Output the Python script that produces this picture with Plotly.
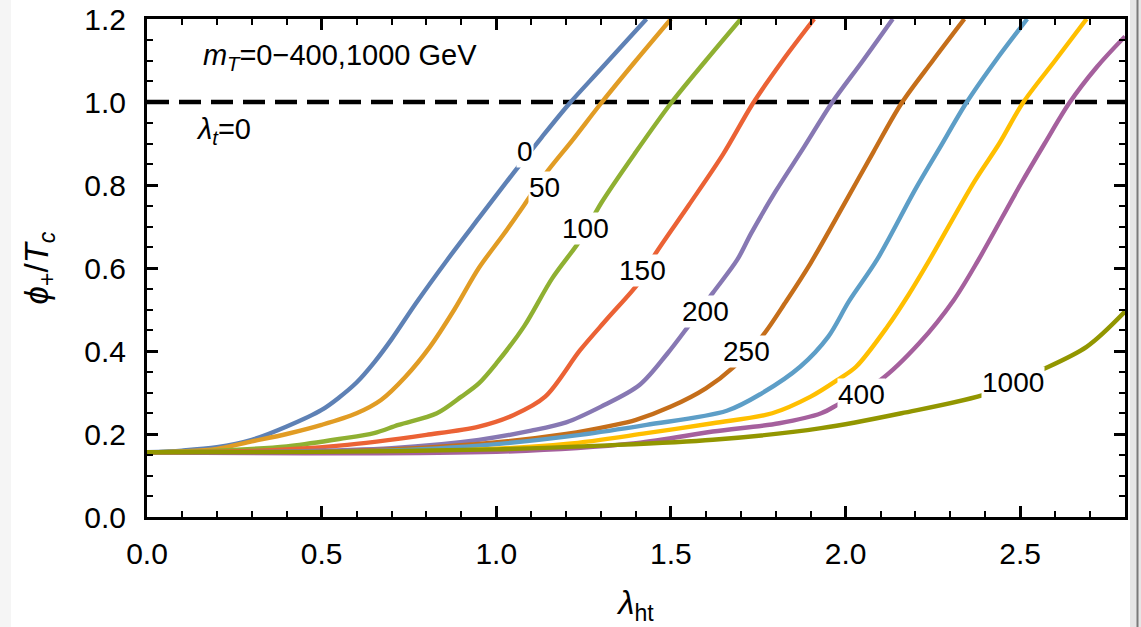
import plotly.graph_objects as go

# ---- data ----
mt_labels = ["0", "50", "100", "150", "200", "250", "300", "350", "400", "1000"]
colors = ["#5E81B5", "#E19C24", "#8FB032", "#EB6235", "#8778B3",
          "#C56E1A", "#5D9EC7", "#FFBF00", "#A5609D", "#929600"]

x_0 = [0, 0.1, 0.2, 0.3, 0.4, 0.5, 0.55, 0.6, 0.65, 0.7, 0.77, 0.86, 0.95, 1.05, 1.13, 1.21, 1.3, 1.43]
y_0 = [0.156, 0.16, 0.168, 0.186, 0.218, 0.258, 0.288, 0.324, 0.372, 0.428, 0.515, 0.62, 0.72, 0.83, 0.915, 0.997, 1.08, 1.2]

x_50 = [0, 0.1, 0.2, 0.3, 0.4, 0.5, 0.6, 0.67, 0.74, 0.81, 0.88, 0.95, 1.02, 1.08, 1.14, 1.22, 1.3, 1.4, 1.5]
y_50 = [0.156, 0.158, 0.164, 0.182, 0.2, 0.222, 0.25, 0.282, 0.338, 0.41, 0.5, 0.6, 0.68, 0.752, 0.826, 0.91, 0.997, 1.1, 1.2]

x_100 = [0, 0.2, 0.4, 0.55, 0.65, 0.72, 0.83, 0.9, 0.95, 1.0, 1.08, 1.16, 1.24, 1.3, 1.4, 1.5, 1.6, 1.7]
y_100 = [0.156, 0.16, 0.17, 0.188, 0.202, 0.222, 0.25, 0.29, 0.322, 0.37, 0.46, 0.575, 0.667, 0.756, 0.88, 0.997, 1.1, 1.2]

x_150 = [0, 0.3, 0.55, 0.8, 0.95, 1.05, 1.14, 1.24, 1.32, 1.41, 1.45, 1.55, 1.65, 1.735, 1.82, 1.91]
y_150 = [0.156, 0.159, 0.172, 0.198, 0.218, 0.246, 0.29, 0.402, 0.48, 0.567, 0.627, 0.75, 0.875, 0.997, 1.1, 1.2]

x_200 = [0, 0.4, 0.7, 0.95, 1.1, 1.2, 1.3, 1.41, 1.49, 1.55, 1.62, 1.69, 1.73, 1.8, 1.88, 1.96, 2.05, 2.135]
y_200 = [0.156, 0.158, 0.166, 0.186, 0.208, 0.228, 0.266, 0.318, 0.394, 0.46, 0.54, 0.62, 0.684, 0.785, 0.89, 0.997, 1.1, 1.2]

x_250 = [0, 0.5, 0.95, 1.2, 1.33, 1.4, 1.5, 1.6, 1.68, 1.76, 1.83, 1.9, 2.0, 2.08, 2.16, 2.25, 2.34]
y_250 = [0.156, 0.157, 0.176, 0.2, 0.22, 0.234, 0.266, 0.31, 0.362, 0.434, 0.52, 0.612, 0.76, 0.88, 0.997, 1.1, 1.2]

x_300 = [0, 0.6, 0.95, 1.24, 1.43, 1.66, 1.76, 1.87, 1.95, 2.01, 2.09, 2.2, 2.27, 2.345, 2.43, 2.52]
y_300 = [0.156, 0.158, 0.172, 0.198, 0.222, 0.256, 0.298, 0.362, 0.434, 0.52, 0.62, 0.79, 0.89, 0.997, 1.1, 1.2]

x_350 = [0, 0.8, 1.2, 1.43, 1.62, 1.79, 1.9, 1.98, 2.03, 2.12, 2.18, 2.24, 2.37, 2.44, 2.507, 2.6, 2.69]
y_350 = [0.156, 0.158, 0.176, 0.202, 0.226, 0.25, 0.29, 0.332, 0.362, 0.459, 0.535, 0.619, 0.81, 0.9, 0.997, 1.1, 1.2]

x_400 = [0, 1.0, 1.4, 1.62, 1.81, 1.93, 1.98, 2.1, 2.21, 2.31, 2.38, 2.5, 2.57, 2.64, 2.72, 2.8]
y_400 = [0.156, 0.157, 0.178, 0.206, 0.226, 0.25, 0.272, 0.33, 0.418, 0.523, 0.619, 0.8, 0.9, 0.997, 1.085, 1.158]

x_1000 = [0, 0.5, 1.0, 1.3, 1.62, 1.93, 2.16, 2.41, 2.55, 2.69, 2.8]
y_1000 = [0.156, 0.157, 0.163, 0.172, 0.186, 0.214, 0.25, 0.298, 0.35, 0.41, 0.495]

xs = [x_0, x_50, x_100, x_150, x_200, x_250, x_300, x_350, x_400, x_1000]
ys = [y_0, y_50, y_100, y_150, y_200, y_250, y_300, y_350, y_400, y_1000]

# inline curve labels (text, x, y)
label_text = ["0", "50", "100", "150", "200", "250", "400", "1000"]
label_x = [1.081, 1.139, 1.256, 1.419, 1.599, 1.717, 2.046, 2.478]
label_y = [0.88, 0.793, 0.694, 0.595, 0.496, 0.40, 0.296, 0.323]

# plot-corner notes
note_text = ["<i>m</i><sub><i>T</i></sub>=0\u2212400,1000 GeV", "<i>\u03bb</i><sub><i>t</i></sub>=0"]
note_x = [0.16, 0.146]
note_y = [1.106, 0.928]

threshold = 1.0
x_range = [0, 2.8]
y_range = [0, 1.2]

FONT = "Liberation Sans"

fig = go.Figure()

# dashed threshold line
fig.add_trace(go.Scatter(x=x_range, y=[threshold, threshold], mode="lines",
                         line=dict(color="black", width=4.5, dash="22px,10px"),
                         hoverinfo="skip", showlegend=False))

for name, c, xv, yv in zip(mt_labels, colors, xs, ys):
    fig.add_trace(go.Scatter(x=xv, y=yv, mode="lines", name=name,
                             line=dict(color=c, width=4.4, shape="spline", smoothing=0.9),
                             showlegend=False))

fig.add_trace(go.Scatter(x=note_x, y=note_y, mode="text", text=note_text,
                         textposition="middle right",
                         textfont=dict(family=FONT, size=29, color="black"),
                         hoverinfo="skip", showlegend=False))

for t, lx, ly in zip(label_text, label_x, label_y):
    fig.add_annotation(x=lx, y=ly, xref="x", yref="y", text=t, showarrow=False,
                       font=dict(family=FONT, size=28, color="black"),
                       bgcolor="white", borderpad=0)

axis_common = dict(showgrid=False, zeroline=False, showline=True, linecolor="black",
                   linewidth=3, mirror="allticks", ticks="inside", ticklen=11,
                   tickwidth=2.5, tickcolor="black",
                   tickfont=dict(family=FONT, size=30, color="black"))

fig.update_xaxes(range=x_range, dtick=0.5, tickformat=".1f",
                 minor=dict(dtick=0.1, ticks="inside", ticklen=6, tickwidth=2, tickcolor="black"),
                 title=dict(text="<i>\u03bb</i><sub>ht</sub>", standoff=22,
                            font=dict(family=FONT, size=33, color="black")),
                 ticklabelstandoff=8,
                 **axis_common)
fig.update_yaxes(range=y_range, dtick=0.2, tickformat=".1f",
                 minor=dict(dtick=0.05, ticks="inside", ticklen=6, tickwidth=2, tickcolor="black"),
                 title=dict(text="<i>\u03d5</i><sub>+</sub>/<i>T</i><sub><i>c</i></sub>", standoff=26,
                            font=dict(family=FONT, size=33, color="black")),
                 ticklabelstandoff=12,
                 **axis_common)

W, H = 1141, 627
L, R, T, B = 147, 16, 19, 110
pw, ph = W - L - R, H - T - B

def px(xp):
    return (xp - L) / pw

def py(yp):
    return (H - B - yp) / ph

fig.update_layout(
    width=W, height=H,
    margin=dict(l=L, r=R, t=T, b=B, autoexpand=False),
    paper_bgcolor="white", plot_bgcolor="white",
    showlegend=False,
    shapes=[
        dict(type="rect", xref="paper", yref="paper", x0=px(0), x1=px(11), y0=py(H), y1=py(0),
             fillcolor="#f5f5f5", line=dict(width=0), layer="below"),
        dict(type="rect", xref="paper", yref="paper", x0=px(1130), x1=px(1141), y0=py(H), y1=py(0),
             fillcolor="#e6e6e6", line=dict(width=0), layer="below"),
        dict(type="line", xref="paper", yref="paper", x0=px(1137.5), x1=px(1137.5), y0=py(H), y1=py(0),
             line=dict(color="#7a7a7a", width=2), layer="below"),
    ],
)

fig.write_html("out.html")
